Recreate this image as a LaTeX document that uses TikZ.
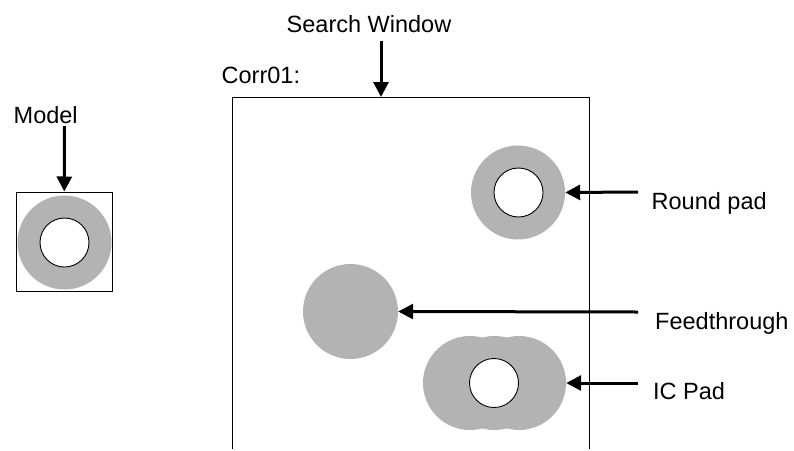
\documentclass[tikz,border=0pt]{standalone}
\usepackage{fontspec}
\setmainfont{Liberation Sans}
\usepackage{xcolor}
\definecolor{padgray}{HTML}{B3B3B3}
\usetikzlibrary{arrows.meta,positioning}

\begin{document}
\begin{tikzpicture}[
x=1pt, y=-1pt,
font=\fontsize{23.5}{28}\selectfont,
caption/.style={inner sep=0pt, anchor=base west},
pad/.style={circle, fill=padgray, minimum size=94pt, inner sep=0pt},
hole/.style={circle, draw, line width=0.9pt, fill=white, minimum size=49pt, inner sep=0pt},
frame/.style={draw, line width=1pt},
arrow/.style={-{Triangle[length=15pt,width=15pt]}, line width=3pt}
]
\useasboundingbox (0,0) rectangle (794,450);

\node (modelbox) [frame, minimum width=96pt, minimum height=99pt, inner sep=0pt] at (64.3,241.5) {};
\node (modelpad) [pad] at (64.5,242.5) {};
\node (modelhole) [hole] at (64.5,242.5) {};
\node (modellbl) [caption] at (13.5,123) {Model};
\coordinate (modeltail) at (64.5,126);

\coordinate (winbl) at (232,449);
\coordinate (wintl) at (232,97);
\coordinate (wintr) at (589,97);
\coordinate (winbr) at (589,449);
\coordinate (searchtip) at (381,97);
\coordinate (searchtail) at (381,41);
\draw [line width=1pt] (winbl) -- (wintl) -- (wintr) -- (winbr);
\node (searchlbl) [caption] at (286.5,32) {Search Window};
\node (corrlbl) [caption] at (221.5,83) {Corr01:};

\node (roundpad) [pad] at (518,192.5) {};
\node (roundhole) [hole] at (518.5,192.5) {};
\node (feedpad) [pad, minimum size=95pt] at (350.5,311.5) {};
\node (icleft) [pad] at (470,383) {};
\node (icmid) [pad] at (494.5,383) {};
\node (icright) [pad] at (519,383) {};
\node (ichole) [hole] at (494,383) {};

\node (roundlbl) [caption] at (651.5,209) {Round pad};
\node (feedlbl) [caption] at (655,329) {Feedthrough};
\node (iclbl) [caption] at (653,399) {IC Pad};
\coordinate (roundtail) at (638,192);
\coordinate (feedtail) at (638,312);
\coordinate (ictail) at (638,383);

\draw [arrow] (modeltail) -- (modelbox.north);
\draw [arrow] (searchtail) -- (searchtip);
\draw [arrow] (roundtail) -- (roundpad.east);
\draw [arrow] (feedtail) -- (feedpad.east);
\draw [arrow] (ictail) -- (icright.east);
\end{tikzpicture}
\end{document}
